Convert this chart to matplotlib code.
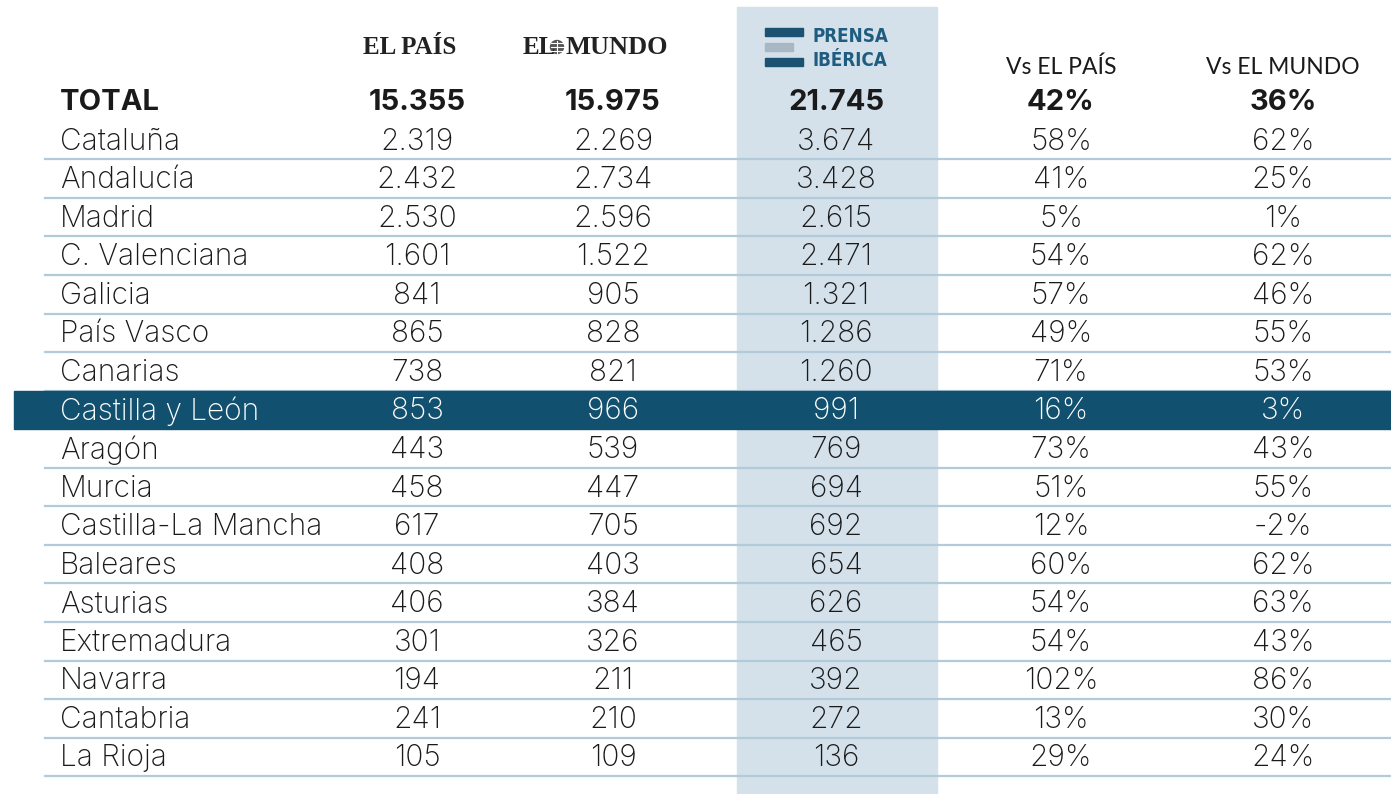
import matplotlib.pyplot as plt
from matplotlib.patches import Rectangle, Circle

regions = ['Cataluña', 'Andalucía', 'Madrid', 'C. Valenciana', 'Galicia', 'País Vasco',
           'Canarias', 'Castilla y León', 'Aragón', 'Murcia', 'Castilla-La Mancha',
           'Baleares', 'Asturias', 'Extremadura', 'Navarra', 'Cantabria', 'La Rioja']
el_pais = [2319, 2432, 2530, 1601, 841, 865, 738, 853, 443, 458, 617, 408, 406, 301, 194, 241, 105]
el_mundo = [2269, 2734, 2596, 1522, 905, 828, 821, 966, 539, 447, 705, 403, 384, 326, 211, 210, 109]
prensa = [3674, 3428, 2615, 2471, 1321, 1286, 1260, 991, 769, 694, 692, 654, 626, 465, 392, 272, 136]
vs_pais = [58, 41, 5, 54, 57, 49, 71, 16, 73, 51, 12, 60, 54, 54, 102, 13, 29]
vs_mundo = [62, 25, 1, 62, 46, 55, 53, 3, 43, 55, -2, 62, 63, 43, 86, 30, 24]
totals = [15355, 15975, 21745]
total_vs = [42, 36]
highlight = 'Castilla y León'

def fmt(v):
    return f'{v:,}'.replace(',', '.')

dark = '#12506f'
shade = '#d4e1ea'
line_c = '#b3cadb'
txt = '#1a1a1a'
font = 'Inter'

fig = plt.figure(figsize=(13.91, 7.94), dpi=100)
ax = fig.add_axes([0, 0, 1, 1])
ax.set_xlim(0, 1391)
ax.set_ylim(794, 0)
ax.axis('off')

col_x = [417, 613, 836, 1061, 1283]
y0, dy = 140, 38.56

# shaded Prensa Ibérica column
ax.add_patch(Rectangle((737, 7), 200, 787, color=shade, zorder=0))

# logos
ax.text(410, 48, 'EL PAÍS', ha='center', va='center', fontsize=18, fontweight='bold',
        family='Liberation Serif', color='#222222')
ax.text(523, 48, 'EL', ha='left', va='center', fontsize=18, fontweight='bold',
        family='Liberation Serif', color='#222222')
ax.add_patch(Circle((557, 47), 6.5, color='#555555', zorder=2))
for yy in (43, 47, 51):
    ax.plot([550.5, 563.5], [yy, yy], color='white', lw=0.8, zorder=3)
ax.plot([557, 557], [40.5, 53.5], color='white', lw=0.8, zorder=3)
ax.text(565, 48, 'MUNDO', ha='left', va='center', fontsize=19, fontweight='bold',
        family='Liberation Serif', color='#222222')
ax.add_patch(Rectangle((765, 28), 38, 7.5, color='#1b5272', zorder=2))
ax.add_patch(Rectangle((765, 43), 28, 7.5, color='#a9b7c4', zorder=2))
ax.add_patch(Rectangle((765, 58), 38, 7.5, color='#1b5272', zorder=2))
ax.text(812, 36, 'PRENSA', ha='left', va='center', fontsize=13.5, fontweight='bold',
        family='DejaVu Sans', color='#1f5d80', fontstretch='condensed')
ax.text(812, 60, 'IBÉRICA', ha='left', va='center', fontsize=13.5, fontweight='bold',
        family='DejaVu Sans', color='#1f5d80', fontstretch='condensed')

ax.text(col_x[3], 67, 'Vs EL PAÍS', ha='center', va='center', fontsize=16.5, family='Lato', color=txt)
ax.text(col_x[4], 67, 'Vs EL MUNDO', ha='center', va='center', fontsize=16.5, family='Lato', color=txt)

# total row
ty = 103
ax.text(60, ty, 'TOTAL', ha='left', va='center', fontsize=21, fontweight='bold', family=font, color=txt)
for x, v in zip(col_x[:3], totals):
    ax.text(x, ty, fmt(v), ha='center', va='center', fontsize=21, fontweight='bold', family=font, color=txt)
for x, v in zip(col_x[3:], total_vs):
    ax.text(x, ty, f'{v}%', ha='center', va='center', fontsize=21, fontweight='bold', family=font, color=txt)

# region rows
for i, reg in enumerate(regions):
    y = y0 + i * dy
    c = txt
    if reg == highlight:
        ax.add_patch(Rectangle((14, y - dy / 2), 1391 - 14, dy, color=dark, zorder=1))
        c = 'white'
    else:
        ax.plot([45, 1391], [y + dy / 2, y + dy / 2], color=line_c, lw=1.6, zorder=1)
    vals = [fmt(el_pais[i]), fmt(el_mundo[i]), fmt(prensa[i]), f'{vs_pais[i]}%', f'{vs_mundo[i]}%']
    ax.text(60, y + 1.5, reg, ha='left', va='center', fontsize=21.5, family=font, fontweight='light', color=c, zorder=4)
    for x, s in zip(col_x, vals):
        ax.text(x, y + 1.5, s, ha='center', va='center', fontsize=21.5, family=font, fontweight='light', color=c, zorder=4)

fig.savefig('out.png', dpi=100)
